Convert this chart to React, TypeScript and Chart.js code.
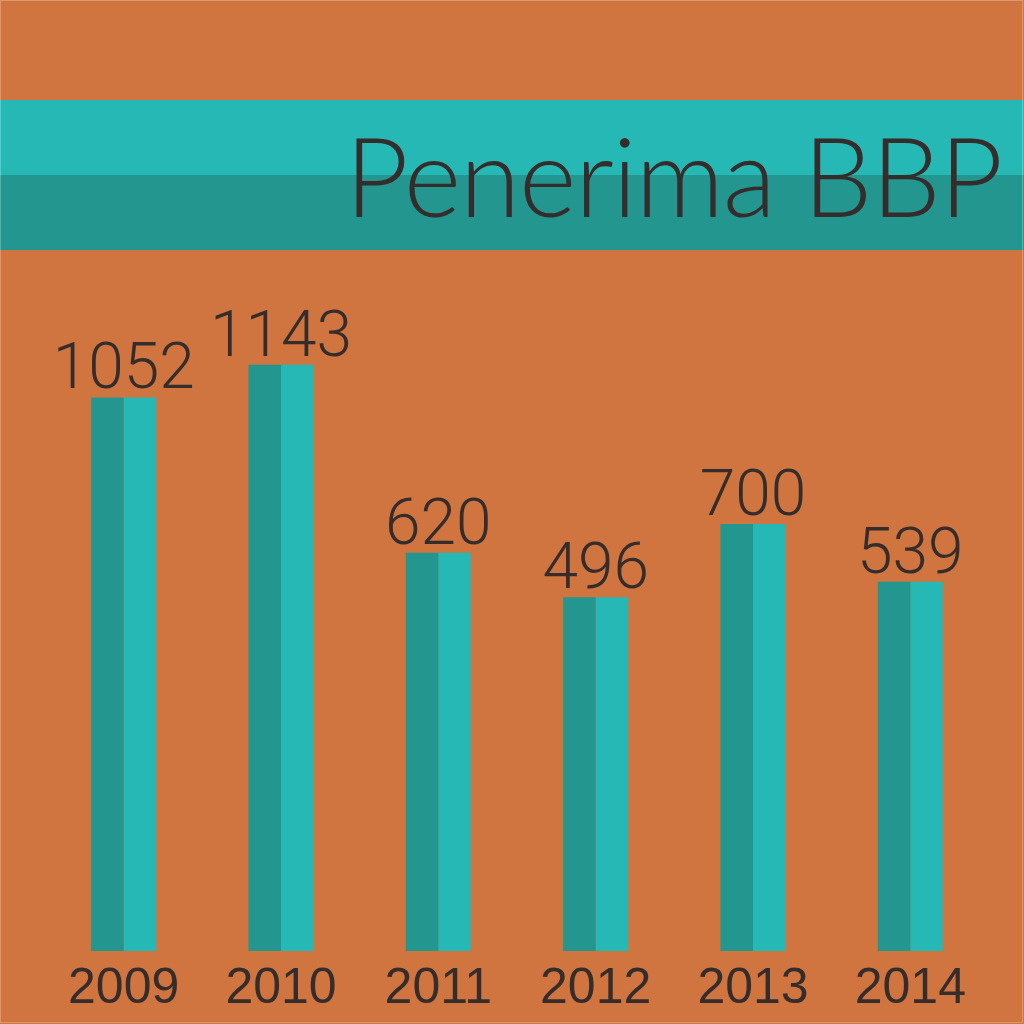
import React, { useEffect, useRef } from "react";
import { Chart, registerables } from "chart.js";

Chart.register(...registerables);

const years = ["2009", "2010", "2011", "2012", "2013", "2014"];
const recipients = [1052, 1143, 620, 496, 700, 539];
const title = "Penerima BBP";

const AXIS_MIN = -488;
const AXIS_MAX = 1323;

const ORANGE = "#D0753F";
const TEAL_LIGHT = "#26B8B4";
const TEAL_DARK = "#23968F";
const TEXT = "#352D2C";

const backgroundPlugin = {
  id: "bgBanner",
  beforeDraw(chart: any) {
    const ctx = chart.ctx;
    const w = chart.width;
    const h = chart.height;
    ctx.save();
    ctx.fillStyle = ORANGE;
    ctx.fillRect(0, 0, w, h);
    ctx.fillStyle = TEAL_LIGHT;
    ctx.fillRect(0, 100, w, 75);
    ctx.fillStyle = TEAL_DARK;
    ctx.fillRect(0, 175, w, 75);
    ctx.fillStyle = TEXT;
    ctx.font = "300 110px Lato";
    ctx.textAlign = "right";
    ctx.textBaseline = "alphabetic";
    const measured = ctx.measureText(title).width;
    const target = 658;
    const spacing = (target - measured) / (title.length - 1);
    (ctx as any).letterSpacing = spacing + "px";
    ctx.fillText(title, 1003 + spacing, 217);
    (ctx as any).letterSpacing = "0px";
    ctx.strokeStyle = "rgba(255,255,255,0.25)";
    ctx.lineWidth = 1;
    ctx.strokeRect(0.5, 0.5, w - 2, h - 2);
    ctx.restore();
  },
};

const valueLabelPlugin = {
  id: "valueLabels",
  afterDatasetsDraw(chart: any) {
    const ctx = chart.ctx;
    const m0 = chart.getDatasetMeta(0);
    const m1 = chart.getDatasetMeta(1);
    ctx.save();
    ctx.font = "300 64px Roboto";
    ctx.fillStyle = TEXT;
    ctx.textAlign = "center";
    ctx.textBaseline = "alphabetic";
    recipients.forEach((v, i) => {
      const a = m0.data[i];
      const b = m1.data[i];
      const x = (a.x + b.x) / 2;
      const y = Math.min(a.y, b.y);
      ctx.fillText(String(v), x, y - 9);
    });
    ctx.restore();
  },
};

export default function App() {
  const ref = useRef<HTMLCanvasElement | null>(null);
  useEffect(() => {
    if (!ref.current) return;
    const chart = new Chart(ref.current, {
      type: "bar",
      data: {
        labels: years,
        datasets: [
          {
            label: "Penerima BBP",
            data: recipients,
            backgroundColor: TEAL_DARK,
            borderWidth: 0,
            base: AXIS_MIN,
            categoryPercentage: 0.4135,
            barPercentage: 1.0,
          } as any,
          {
            label: "Penerima BBP (b)",
            data: recipients,
            backgroundColor: TEAL_LIGHT,
            borderWidth: 0,
            base: AXIS_MIN,
            categoryPercentage: 0.4135,
            barPercentage: 1.0,
          } as any,
        ],
      },
      options: {
        responsive: false,
        animation: false,
        devicePixelRatio: 1,
        layout: { padding: { left: 45, right: 35, top: 300, bottom: -3 } },
        plugins: {
          legend: { display: false },
          tooltip: { enabled: false },
          title: { display: false },
        },
        scales: {
          x: {
            grid: { display: false, drawTicks: false },
            border: { display: false },
            ticks: {
              color: TEXT,
              padding: 8,
              font: { family: "'Liberation Sans', Arial, sans-serif", size: 50 },
            },
          },
          y: {
            display: false,
            min: AXIS_MIN,
            max: AXIS_MAX,
          },
        },
      },
      plugins: [backgroundPlugin, valueLabelPlugin],
    });
    return () => chart.destroy();
  }, []);
  return (
    <div style={{ position: "absolute", left: 0, top: 0, width: 1024, height: 1024 }}>
      <canvas ref={ref} width={1024} height={1024} style={{ display: "block" }} />
    </div>
  );
}
